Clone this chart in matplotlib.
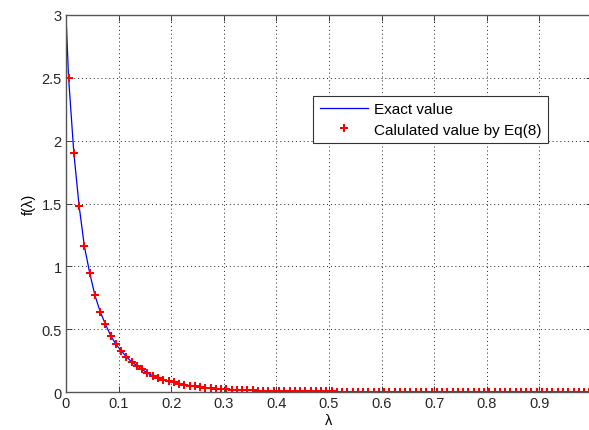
import matplotlib
matplotlib.use("Agg")
import matplotlib.pyplot as plt

plt.rcParams['font.family'] = ['Liberation Sans', 'DejaVu Sans']

# computed points (lambda, f)
lam_calc = [0.005, 0.015, 0.025, 0.035, 0.045, 0.055, 0.065, 0.075, 0.085, 0.095,
            0.105, 0.115, 0.125, 0.135, 0.145, 0.155, 0.165, 0.175, 0.185, 0.195,
            0.205, 0.215, 0.225, 0.235, 0.245, 0.255, 0.265, 0.275, 0.285, 0.295,
            0.305, 0.315, 0.325, 0.335, 0.345, 0.355, 0.365, 0.375, 0.385, 0.395,
            0.405, 0.415, 0.425, 0.435, 0.445, 0.455, 0.465, 0.475, 0.485, 0.495,
            0.505, 0.515, 0.525, 0.535, 0.545, 0.555, 0.565, 0.575, 0.585, 0.595,
            0.605, 0.615, 0.625, 0.635, 0.645, 0.655, 0.665, 0.675, 0.685, 0.695,
            0.705, 0.715, 0.725, 0.735, 0.745, 0.755, 0.765, 0.775, 0.785, 0.795,
            0.805, 0.815, 0.825, 0.835, 0.845, 0.855, 0.865, 0.875, 0.885, 0.895,
            0.905, 0.915, 0.925, 0.935, 0.945, 0.955, 0.965, 0.975, 0.985, 0.995]
f_calc = [2.50, 1.90, 1.48, 1.16, 0.95, 0.77, 0.64, 0.54, 0.45, 0.38,
          0.33, 0.28, 0.24, 0.21, 0.18, 0.15, 0.13, 0.115, 0.10, 0.088,
          0.077, 0.067, 0.059, 0.052, 0.046, 0.040, 0.036, 0.032, 0.028, 0.025,
          0.022, 0.020, 0.018, 0.016, 0.014, 0.013, 0.012, 0.011, 0.010, 0.009,
          0.008, 0.008, 0.007, 0.007, 0.006, 0.006, 0.006, 0.005, 0.005, 0.005,
          0.005, 0.004, 0.004, 0.004, 0.004, 0.004, 0.004, 0.003, 0.003, 0.003,
          0.003, 0.003, 0.003, 0.003, 0.003, 0.003, 0.002, 0.002, 0.002, 0.002,
          0.002, 0.002, 0.002, 0.002, 0.002, 0.002, 0.002, 0.002, 0.002, 0.002,
          0.002, 0.002, 0.002, 0.002, 0.002, 0.002, 0.001, 0.001, 0.001, 0.001,
          0.001, 0.001, 0.001, 0.001, 0.001, 0.001, 0.001, 0.001, 0.001, 0.001]

# exact curve
lam_exact = [0.001] + lam_calc
f_exact = [2.90] + f_calc

xticks = [0, 0.1, 0.2, 0.3, 0.4, 0.5, 0.6, 0.7, 0.8, 0.9]
xticklabels = ['0', '0.1', '0.2', '0.3', '0.4', '0.5', '0.6', '0.7', '0.8', '0.9']
yticks = [0, 0.5, 1, 1.5, 2, 2.5, 3]
yticklabels = ['0', '0.5', '1', '1.5', '2', '2.5', '3']

fig = plt.figure(figsize=(5.89, 4.31), dpi=100)
ax = fig.add_axes([0.112, 0.088, 0.893, 0.875])

ax.plot(lam_exact, f_exact, color='#0000ff', lw=0.9, label='Exact value')
ax.plot(lam_calc, f_calc, linestyle='none', marker='P', markersize=5.5,
        color='#ff0000', markeredgewidth=0, label='Calulated value by Eq(8)')

ax.set_xlim(0, 1)
ax.set_ylim(0, 3)
ax.set_xticks(xticks)
ax.set_xticklabels(xticklabels)
ax.set_yticks(yticks)
ax.set_yticklabels(yticklabels)
ax.tick_params(direction='in', length=4, labelsize=10.5, colors='#262626',
               top=True, right=True, width=0.6, pad=3)
ax.grid(True, linestyle=(0, (1, 3)), color='#222222', lw=0.7)
for s in ax.spines.values():
    s.set_color('#555555')
    s.set_linewidth(1.0)

ax.set_xlabel('λ', fontsize=10.5, labelpad=2)
ax.set_ylabel('f(λ)', fontsize=10.5, labelpad=4)

leg = ax.legend(loc='upper left', bbox_to_anchor=(0.47, 0.785), borderaxespad=0,
                fontsize=11, fancybox=False, framealpha=1, edgecolor='#333333',
                handlelength=3.2, handletextpad=0.35, borderpad=0.42, labelspacing=0.4)
leg.get_frame().set_linewidth(0.8)

fig.savefig('out.png', dpi=100)
